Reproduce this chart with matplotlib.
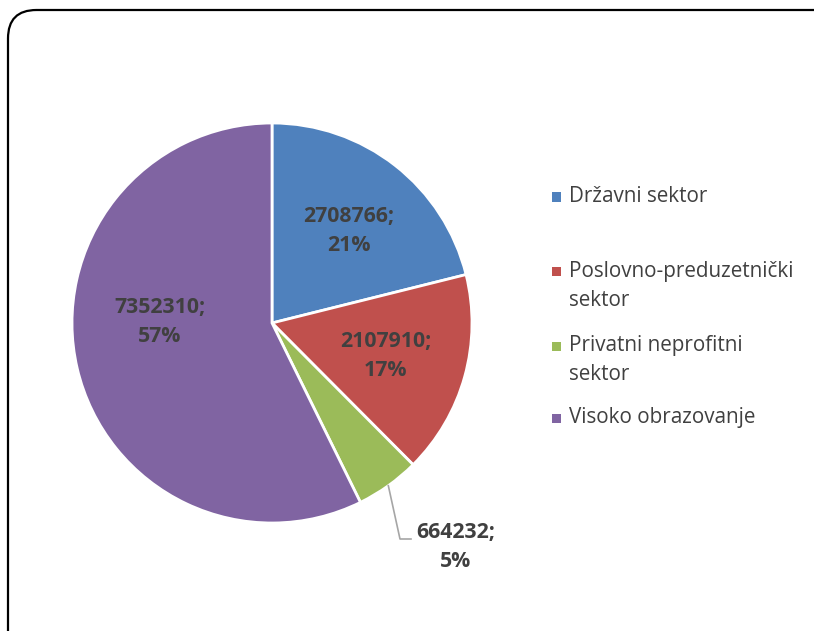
import numpy as np
import matplotlib.pyplot as plt
from matplotlib.patches import FancyBboxPatch, Rectangle

# podaci
sektori = ['Državni sektor', 'Poslovno-preduzetnički\nsektor',
           'Privatni neprofitni\nsektor', 'Visoko obrazovanje']
vrijednosti = [2708766, 2107910, 664232, 7352310]
procenti = [21, 17, 5, 57]
boje = ['#4F81BD', '#C0504D', '#9BBB59', '#8064A2']

# pozicije oznaka (ugao u stepenima, udaljenost od centra)
label_pos = [(50.4, 0.60), (-16.1, 0.593), (-50.0, 1.45), (179.5, 0.56)]

fig = plt.figure(figsize=(8.14, 6.31), dpi=100)
plt.rcParams['font.family'] = ['Open Sans', 'DejaVu Sans']

# okvir sa zaobljenim uglovima
okvir = FancyBboxPatch((8 / 814, -0.2), 1.2, 1 - 10 / 631 + 0.2,
                       boxstyle='round,pad=0,rounding_size=0.035',
                       transform=fig.transFigure, fill=False,
                       edgecolor='black', linewidth=1.6,
                       mutation_aspect=814 / 631)
fig.patches.append(okvir)

ax = fig.add_axes([72 / 814, 108 / 631, 400 / 814, 400 / 631])
wedges, _ = ax.pie(vrijednosti, colors=boje, startangle=90, counterclock=False,
                   wedgeprops=dict(edgecolor='white', linewidth=2))
ax.set_xlim(-1, 1)
ax.set_ylim(-1, 1)
ax.set_aspect('equal')

for i, v in enumerate(vrijednosti):
    ang, d = label_pos[i]
    x = d * np.cos(np.radians(ang))
    y = d * np.sin(np.radians(ang))
    if i == 2:
        x, y = 0.92, -1.12
    ax.text(x, y, '{};\n{}%'.format(v, procenti[i]), ha='center', va='center',
            fontsize=15.3, fontweight='bold', color='#404040', linespacing=1.5,
            clip_on=False)

# linija vodilja za mali isječak
w = wedges[2]
mid = np.radians((w.theta1 + w.theta2) / 2)
ax.plot([np.cos(mid), 0.64, 0.695], [np.sin(mid), -1.08, -1.08],
        color='#A6A6A6', linewidth=1.2, clip_on=False)

# legenda
leg_y = [197, 271, 346, 418]
for i, s in enumerate(sektori):
    yy = 1 - leg_y[i] / 631
    fig.patches.append(Rectangle((552 / 814, yy - 4.5 / 631), 9 / 814, 9 / 631,
                                 transform=fig.transFigure, facecolor=boje[i],
                                 edgecolor='none'))
    for j, linija in enumerate(s.split('\n')):
        fig.text(569 / 814, yy - j * 29 / 631, linija, ha='left', va='center',
                 fontsize=14.9, color='#404040')

fig.savefig('out.png', dpi=100)
